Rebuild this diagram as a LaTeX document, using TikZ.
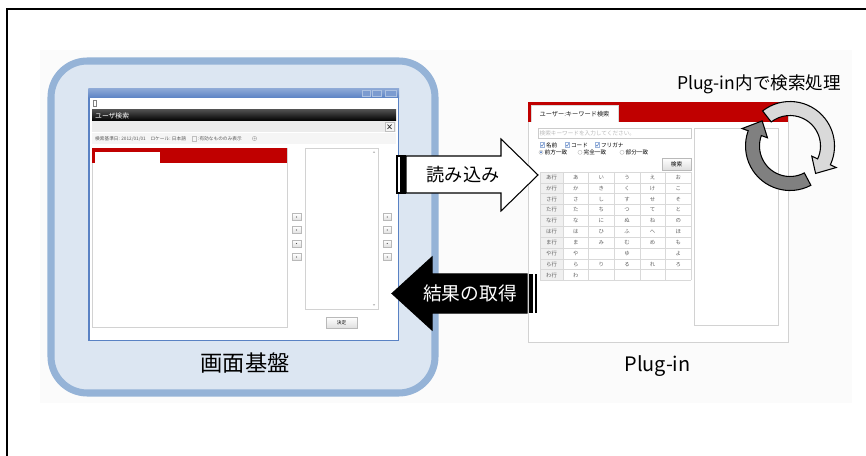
\documentclass[tikz,border=0pt]{standalone}
\usepackage{fontspec}
\setmainfont{Noto Sans CJK JP}
\usetikzlibrary{calc}

\definecolor{frameblue}{HTML}{95B3D7}
\definecolor{paleblue}{HTML}{DCE6F2}
\definecolor{winblue}{HTML}{5A82C4}
\definecolor{tabred}{HTML}{C00000}
\definecolor{lightarrow}{HTML}{D9D9D9}
\definecolor{darkarrow}{HTML}{808080}

\begin{document}
\begin{tikzpicture}[x=0.03cm, y=-0.03cm,
    tinytext/.style={font=\fontsize{4}{5}\selectfont, inner sep=0pt},
    smalltext/.style={font=\fontsize{4.8}{6}\selectfont, inner sep=0pt},
    cell/.style={font=\fontsize{4.6}{5}\selectfont, text=gray!75!black, inner sep=0pt},
    smallbtn/.style={draw=gray!55, line width=0.3pt, top color=white, bottom color=gray!25},
    panel/.style={draw=gray!35, line width=0.5pt, fill=white},
    blockarrow/.style={draw=black, line width=0.9pt}]
  \useasboundingbox (0,0) rectangle (866,456);
  \fill[white] (0,0) rectangle (866,456);
  \fill[gray!3] (40,50) rectangle (852,403);
  \draw[line width=1.3pt] (7,456) -- (7,9) -- (866,9);

  % 画面基盤
  \draw[frameblue, fill=paleblue, line width=6pt, rounded corners=31pt] (51,61) rectangle (435,393);
  \draw[winblue, line width=1.2pt, fill=white] (89,89.5) rectangle (398.5,340.5);
  \shade[top color=winblue!70, bottom color=winblue] (88.4,88.9) rectangle (399.1,98);
  \foreach \bx/\bw in {362/8, 372/9.5, 385/11.5}
    \draw[white!50!winblue, fill=winblue!80!white, line width=0.3pt] (\bx,90.5) rectangle ++(\bw,5.5);
  \draw[gray, line width=0.3pt] (93,100.5) rectangle (96.5,106);
  \shade[top color=gray!60!black, bottom color=black] (92,110) rectangle (396,121);
  \node[font=\fontsize{5.8}{6}\selectfont, text=white, inner sep=0pt, anchor=west] (title) at (95,115.5) {ユーザ検索};
  \fill[gray!15] (92,121.5) rectangle (396,132);
  \draw[gray!50, line width=0.3pt, fill=gray!8] (385,122.5) rectangle (394,131);
  \draw[gray!40!black, line width=0.6pt] (387.5,124.5) -- (391.5,129) (387.5,129) -- (391.5,124.5);
  \fill[gray!8] (92,133) rectangle (396,144);
  \node[tinytext, text=gray!70!black, anchor=west] (basedate) at (95,138.5) {検索基準日: 2012/01/01　ロケール: 日本語};
  \draw[gray!50, line width=0.3pt] (192.5,136.3) rectangle (196.5,140.7);
  \node[tinytext, text=gray!70!black, anchor=west] (validonly) at (198,138.5) {:有効なもののみ表示};
  \draw[gray!60, line width=0.4pt] (254.5,138.5) circle (2.2);
  \fill[gray!60] (254.5,138.5) circle (1);

  \draw[panel] (92,148) rectangle (287,327);
  \fill[tabred] (92.3,148.3) rectangle (286.7,163);
  \fill[white] (94.5,152) rectangle (160,163);
  \foreach \y in {217,230,243.5,257} {
    \draw[smallbtn] (292,\y-3.5) rectangle (301,\y+3.5);
    \draw[smallbtn] (383,\y-3.5) rectangle (391.5,\y+3.5);
    \fill[gray!60!black] (296.5,\y) circle (0.7);
    \fill[gray!60!black] (387.2,\y) circle (0.7);
  }
  \draw[panel] (305,148) rectangle (378,309);
  \fill[gray!50] (372.8,153) -- (375.2,153) -- (374,151) -- cycle;
  \fill[gray!50] (372.8,304) -- (375.2,304) -- (374,306) -- cycle;
  \draw[smallbtn] (326,317) rectangle (357,328);
  \node[tinytext] (decide) at (341.5,322.5) {決定};
  \node[font=\fontsize{19}{19}\selectfont] (kiban) at (245,363) {画面基盤};

  % Plug-in
  \draw[panel] (528,102) rectangle (788,342);
  \fill[tabred] (528.3,102.3) rectangle (787.7,122);
  \fill[white] (531,105) rectangle (618,122.3);
  \draw[gray!30, line width=0.4pt] (531,122.3) -- (531,105) -- (618,105) -- (618,122.3);
  \node[font=\fontsize{5.3}{6}\selectfont, text=gray!20!black, inner sep=0pt] (tabtitle) at (574.5,114) {ユーザー:キーワード検索};
  \draw[gray!40, line width=0.4pt, fill=white] (538,128) rectangle (691,138);
  \node[smalltext, text=gray!55, anchor=west] (keyword) at (539.5,133) {検索キーワードを入力してください。};
  \foreach \bx/\lab [count=\k] in {540/名前, 565/コード, 595/フリガナ} {
    \draw[winblue!60, fill=white, line width=0.3pt] (\bx,142.6) rectangle ++(4.4,4.4);
    \draw[winblue, line width=0.5pt] (\bx+1,145) -- (\bx+2,146.2) -- (\bx+3.8,143.4);
    \node[smalltext, anchor=west] (check\k) at (\bx+5.8,145) {\lab};
  }
  \foreach \rx/\lab [count=\k] in {541/前方一致, 580/完全一致, 622/部分一致} {
    \draw[gray!60, fill=white, line width=0.3pt] (\rx,152.3) circle (2.1);
    \node[smalltext, anchor=west] (radio\k) at (\rx+3.5,152.3) {\lab};
  }
  \fill[winblue] (541,152.3) circle (1.1);
  \draw[smallbtn] (662,158) rectangle (691,170);
  \node[smalltext] (searchbtn) at (676.5,164) {検索};

  \foreach \kr/\ka/\ki/\ku/\ke/\ko [count=\i from 0] in {あ行/あ/い/う/え/お, か行/か/き/く/け/こ,
      さ行/さ/し/す/せ/そ, た行/た/ち/つ/て/と, な行/な/に/ぬ/ね/の, は行/は/ひ/ふ/へ/ほ,
      ま行/ま/み/む/め/も, や行/や/{}/ゆ/{}/よ, ら行/ら/り/る/れ/ろ, わ行/わ/{}/{}/{}/{}} {
    \pgfmathsetmacro{\yc}{177.4+\i*10.85}
    \fill[gray!12] (540,\yc-5.42) rectangle (563,\yc+5.42);
    \node[cell] (row\i) at (551.5,\yc) {\kr};
    \node[cell] (kana\i-1) at (575.8,\yc) {\ka};
    \node[cell] (kana\i-2) at (601.4,\yc) {\ki};
    \node[cell] (kana\i-3) at (627,\yc) {\ku};
    \node[cell] (kana\i-4) at (652.6,\yc) {\ke};
    \node[cell] (kana\i-5) at (678.2,\yc) {\ko};
  }
  \foreach \x in {540,563,588.6,614.2,639.8,665.4,691}
    \draw[gray!30, line width=0.4pt] (\x,172) -- (\x,280.5);
  \foreach \i in {0,...,10}
    \draw[gray!30, line width=0.4pt] (540,172+\i*10.85) -- (691,172+\i*10.85);
  \draw[panel] (694,128) rectangle (778,325);
  \node[font=\fontsize{17}{17}\selectfont] (pluglabel) at (657.5,366.5) {Plug-in};

  % 読み込み / 結果の取得
  \draw[blockarrow, fill=white] (406,156) -- (501,156) -- (501,139) -- (538,175) -- (501,211)
    -- (501,193) -- (406,193) -- cycle;
  \draw[blockarrow, fill=white] (397,156) rectangle (401,193);
  \draw[blockarrow, fill=white] (403,156) rectangle (405,193);
  \node[font=\fontsize{15.5}{16}\selectfont] (yomikomi) at (463,175) {読み込み};

  \draw[blockarrow, fill=black] (527,274) -- (432,274) -- (432,257) -- (392,293.5) -- (432,330)
    -- (432,313) -- (527,313) -- cycle;
  \fill[black] (529,273.6) rectangle (533,313.4);
  \fill[black] (534.7,273.6) rectangle (537.2,313.4);
  \node[font=\fontsize{16}{16}\selectfont, text=white] (kekka) at (470,293) {結果の取得};

  % 検索処理
  \begin{scope}[shift={(790,146)}, yscale=-1]
    \draw[blockarrow, fill=lightarrow] (128:44.5) arc[start angle=128, end angle=-25, radius=44.5]
      -- (-25:51) -- (-47:37.5) -- (-25:24) -- (-25:30.5) arc[start angle=-25, end angle=128, radius=30.5] -- cycle;
    \draw[blockarrow, fill=darkarrow] (-62:44.5) arc[start angle=-62, end angle=-200, radius=44.5]
      -- (-200:51) -- (-222:37.5) -- (-200:24) -- (-200:30.5) arc[start angle=-200, end angle=-62, radius=30.5] -- cycle;
  \end{scope}
  \node[font=\fontsize{15}{15}\selectfont] (process) at (759,84) {Plug-in内で検索処理};
\end{tikzpicture}
\end{document}
